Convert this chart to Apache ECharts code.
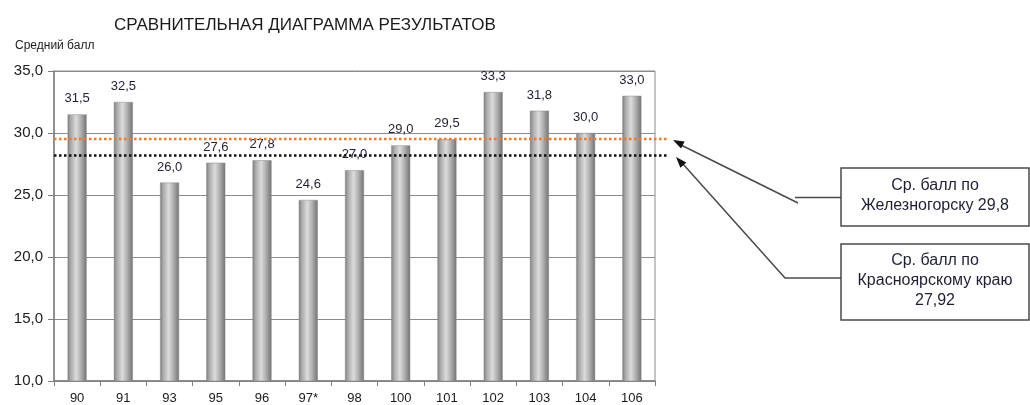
<!DOCTYPE html>
<html>
<head>
<meta charset="utf-8">
<script src="https://cdn.jsdelivr.net/npm/echarts@6/dist/echarts.min.js"></script>
<style>html,body{margin:0;padding:0;background:#fff}#c{width:1030px;height:405px}</style>
</head>
<body>
<div id="c"></div>
<script>
var categories = ['90','91','93','95','96','97*','98','100','101','102','103','104','106'];
var scores = [31.5, 32.5, 26.0, 27.6, 27.8, 24.6, 27.0, 29.0, 29.5, 33.3, 31.8, 30.0, 33.0];
var yTicks = [10, 15, 20, 25, 30, 35];
// average lines as drawn in the picture (position)
var cityAvgLine = 29.57;
var regionAvgLine = 28.25;
var cityLabel = ['Ср. балл по', 'Железногорску 29,8'];
var regionLabel = ['Ср. балл по', 'Красноярскому краю', '27,92'];

var FONT = '"Liberation Sans", Arial, sans-serif';
var chart = echarts.init(document.getElementById('c'), null, {renderer: 'canvas'});

function arrowHead(tip, from, len, half) {
  var dx = tip[0] - from[0], dy = tip[1] - from[1];
  var L = Math.sqrt(dx * dx + dy * dy);
  var ux = dx / L, uy = dy / L;
  var bx = tip[0] - ux * len, by = tip[1] - uy * len;
  var nx = -uy, ny = ux;
  return [tip, [bx + nx * half, by + ny * half], [bx - nx * half, by - ny * half]];
}
var tip1 = [673, 140], from1 = [798, 203];
var tip2 = [676, 157], from2 = [785, 278];
var stroke = '#4a4a4a';
var yMin = yTicks[0], yMax = yTicks[yTicks.length - 1];

var option = {
  animation: false,
  backgroundColor: '#fff',
  textStyle: {fontFamily: FONT},
  title: [{
    text: 'СРАВНИТЕЛЬНАЯ ДИАГРАММА РЕЗУЛЬТАТОВ',
    left: 109, top: 12,
    textStyle: {fontFamily: FONT, fontSize: 17, fontWeight: 'normal', color: '#1a1a1a'}
  }, {
    text: 'Средний балл',
    left: 10, top: 35,
    textStyle: {fontFamily: FONT, fontSize: 12, fontWeight: 'normal', color: '#1a1a1a'}
  }],
  grid: [
    {left: 54, right: 375, top: 71, bottom: 21, show: true, borderColor: '#8c8c8c', borderWidth: 1, containLabel: false},
    {left: 54, right: 362, top: 71, bottom: 21, show: false, containLabel: false}
  ],
  xAxis: [{
    type: 'category',
    gridIndex: 0,
    data: categories,
    axisLine: {lineStyle: {color: '#7f7f7f', width: 1.5}},
    axisTick: {show: true, length: 5, alignWithLabel: false, lineStyle: {color: '#7f7f7f'}},
    axisLabel: {fontFamily: FONT, fontSize: 13, color: '#1a1a1a', margin: 11}
  }, {
    type: 'value', gridIndex: 1, min: 0, max: 1, show: false
  }],
  yAxis: [{
    type: 'value', gridIndex: 0, min: yMin, max: yMax, interval: 5,
    axisLine: {show: true, lineStyle: {color: '#7f7f7f', width: 1.5}},
    axisTick: {show: true, length: 6, lineStyle: {color: '#7f7f7f'}},
    splitLine: {lineStyle: {color: '#8c8c8c', width: 1}},
    axisLabel: {fontFamily: FONT, fontSize: 15, color: '#1a1a1a', margin: 11,
      formatter: function (v) { return v.toFixed(1).replace('.', ','); }}
  }, {
    type: 'value', gridIndex: 1, min: yMin, max: yMax, show: false
  }],
  series: [{
    type: 'bar',
    xAxisIndex: 0, yAxisIndex: 0,
    data: scores,
    barWidth: 19,
    itemStyle: {
      color: new echarts.graphic.LinearGradient(0, 0, 1, 0, [
        {offset: 0, color: '#7c7c7c'},
        {offset: 0.15, color: '#a8a8a8'},
        {offset: 0.45, color: '#dcdcdc'},
        {offset: 0.7, color: '#b0b0b0'},
        {offset: 1, color: '#727272'}
      ]),
      borderColor: '#8a8a8a', borderWidth: 0.5
    },
    label: {
      show: true, position: 'top', distance: 9,
      fontFamily: FONT, fontSize: 13, color: '#1f1f33',
      formatter: function (p) { return p.value.toFixed(1).replace('.', ','); }
    },
    z: 2
  }, {
    type: 'line', xAxisIndex: 1, yAxisIndex: 1, symbol: 'none', silent: true,
    data: [[0, cityAvgLine], [1, cityAvgLine]],
    lineStyle: {color: '#f07a2a', width: 2.5, type: [2.5, 2.5]},
    z: 3
  }, {
    type: 'line', xAxisIndex: 1, yAxisIndex: 1, symbol: 'none', silent: true,
    data: [[0, regionAvgLine], [1, regionAvgLine]],
    lineStyle: {color: '#111111', width: 2.5, type: [2.5, 2.5]},
    z: 3
  }],
  graphic: [
    {type: 'rect', shape: {x: 841, y: 168, width: 188, height: 58}, style: {fill: '#fff', stroke: stroke, lineWidth: 1.5}},
    {type: 'text', x: 935, y: 196, style: {text: cityLabel.join('\n'), font: '16px ' + FONT, fill: '#1f1f33', align: 'center', verticalAlign: 'middle', lineHeight: 20}},
    {type: 'rect', shape: {x: 841, y: 244, width: 188, height: 76}, style: {fill: '#fff', stroke: stroke, lineWidth: 1.5}},
    {type: 'text', x: 935, y: 281, style: {text: regionLabel.join('\n'), font: '16px ' + FONT, fill: '#1f1f33', align: 'center', verticalAlign: 'middle', lineHeight: 20}},
    {type: 'polyline', shape: {points: [[841, 197.5], [795, 197.5]]}, style: {stroke: stroke, lineWidth: 1.5, fill: null}},
    {type: 'polyline', shape: {points: [from1, [681, 145]]}, style: {stroke: stroke, lineWidth: 1.5, fill: null}},
    {type: 'polygon', shape: {points: arrowHead(tip1, from1, 11, 4)}, style: {fill: '#111'}},
    {type: 'polyline', shape: {points: [[841, 278], [785, 278], [683, 164]]}, style: {stroke: stroke, lineWidth: 1.5, fill: null}},
    {type: 'polygon', shape: {points: arrowHead(tip2, from2, 11, 4)}, style: {fill: '#111'}}
  ]
};
chart.setOption(option);
</script>
</body>
</html>
